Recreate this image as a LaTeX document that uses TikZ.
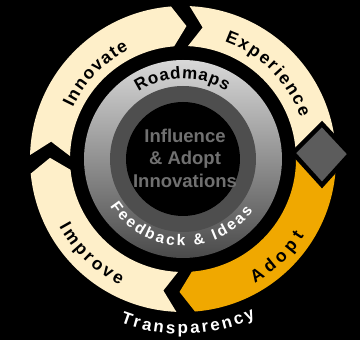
\documentclass[tikz,border=0pt]{standalone}
\usepackage{fontspec}
\newfontfamily\lab{Liberation Sans}
\usetikzlibrary{decorations.text}
\definecolor{cream}{HTML}{FEEFC9}
\definecolor{gold}{HTML}{F0A800}
\definecolor{ctext}{HTML}{707070}
\definecolor{dband}{HTML}{4E4E4E}
\definecolor{dia}{HTML}{5C5C5C}
\definecolor{gtop}{HTML}{D8D8D8}
\definecolor{gmid}{HTML}{6E6E6E}
\definecolor{gbot}{HTML}{4A4A4A}
\tikzset{
  seg/.style={fill=#1},
  ringlab/.style={decorate, decoration={text along path, text align={fit to path}, text={|\lab\bfseries\fontsize{17.5}{17.5}\selectfont|#1}}},
  innerlab/.style={decorate, decoration={text along path, text align={fit to path}, text={|\lab\bfseries\fontsize{17}{17}\selectfont|#1}}},
  whitelab/.style={decorate, decoration={text along path, text align={fit to path}, text={|\color{white}\lab\bfseries\fontsize{15.5}{15.5}\selectfont|#1}}},
  translab/.style={decorate, decoration={text along path, text align={fit to path}, text={|\color{white}\lab\bfseries\fontsize{17}{17}\selectfont|#1}}}
}
\begin{document}
\begin{tikzpicture}[x=1pt,y=1pt]
\fill[black] (0,0) rectangle (360,340);
\useasboundingbox (0,0) rectangle (360,340);
\coordinate (C) at (183,181);
\def\Ro{153}\def\Ri{113}\def\Rm{133}
\begin{scope}[shift={(C)}]
% Innovate
\fill[seg=cream] (178.5:\Ro) arc[start angle=178.5, end angle=94.5, radius=\Ro] -- (88.5:\Rm) -- (94.5:\Ri) arc[start angle=94.5, end angle=178.5, radius=\Ri] -- (172.5:\Rm) -- cycle;
% Experience
\fill[seg=cream] (87.5:\Ro) arc[start angle=87.5, end angle=2, radius=\Ro] -- (2:\Ri) arc[start angle=2, end angle=87.5, radius=\Ri] -- (81.5:\Rm) -- cycle;
% Adopt
\fill[seg=gold] (2:\Ro) arc[start angle=2, end angle=-85.5, radius=\Ro] -- (-91.5:\Rm) -- (-85.5:\Ri) arc[start angle=-85.5, end angle=2, radius=\Ri] -- cycle;
% Improve
\fill[seg=cream] (267.5:\Ro) arc[start angle=267.5, end angle=185.5, radius=\Ro] -- (179.5:\Rm) -- (185.5:\Ri) arc[start angle=185.5, end angle=267.5, radius=\Ri] -- (261.5:\Rm) -- cycle;
% hub
\shade[top color=gtop, middle color=gmid, bottom color=gbot] (0,0) circle[radius=99];
\fill[dband] (0,0) circle[radius=73];
\fill[black] (0,0) circle[radius=57];
% ring labels
\path[ringlab=Innovate] (155:121.5) arc[start angle=155, end angle=116.5, radius=121.5];
\path[ringlab=Experience] (70.5:124.5) arc[start angle=70.5, end angle=19.5, radius=124.5];
\path[ringlab=Adopt] (300:143.5) arc[start angle=300, end angle=327.5, radius=143.5];
\path[ringlab=Improve] (208.5:141) arc[start angle=208.5, end angle=243.5, radius=141];
\path[innerlab=Roadmaps] (123.5:80.5) arc[start angle=123.5, end angle=57.5, radius=80.5];
\path[whitelab={Feedback {\&} Ideas}] (213:87) arc[start angle=213, end angle=323.5, radius=87];
\path[translab=Transparency] (249:175) arc[start angle=249, end angle=294.5, radius=175];
\end{scope}
% diamond
\filldraw[fill=dia, draw=black, line width=4.5pt, line join=miter] (322,216) -- (350,186) -- (322,155) -- (293,187) -- cycle;
% centre text
\node[name=hubtext, align=center, text=ctext, font=\lab\bfseries\fontsize{18.5}{22.5}\selectfont] at (185,182) {Influence\\\& Adopt\\Innovations};
\end{tikzpicture}
\end{document}
